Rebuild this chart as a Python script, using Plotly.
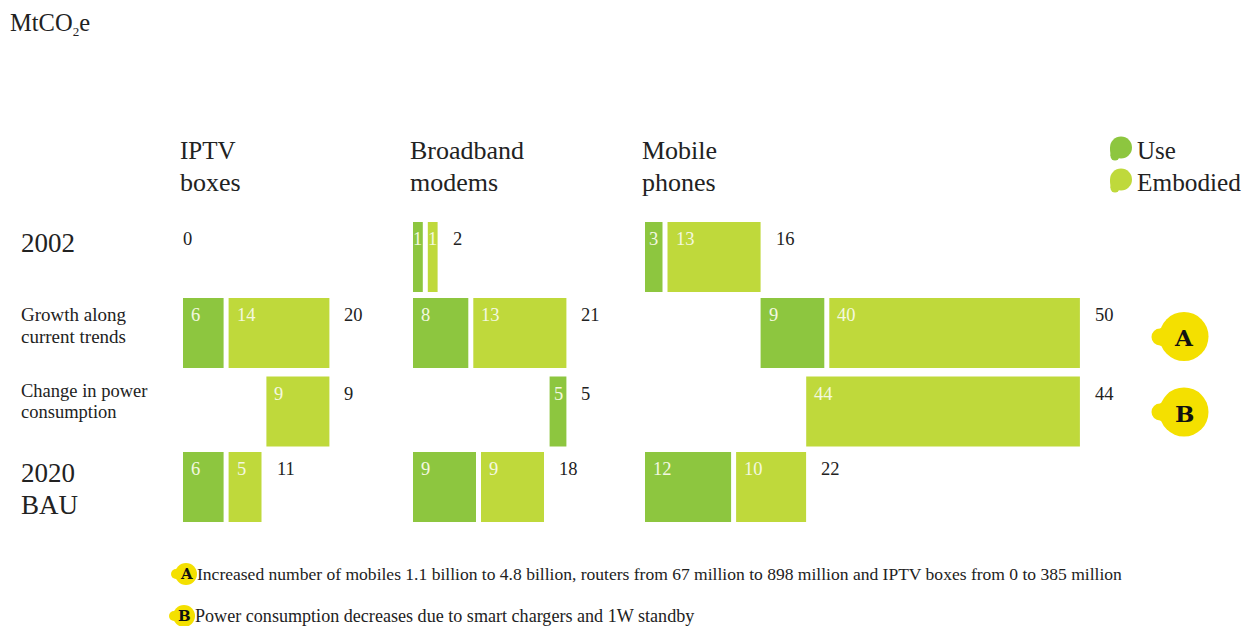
import plotly.graph_objects as go

# ---- data ----
panels = ["IPTV<br>boxes", "Broadband<br>modems", "Mobile<br>phones"]
rows = ["2002", "Growth along<br>current trends", "Change in power<br>consumption", "2020<br>BAU"]
# drawn lengths (MtCO2e)
iptv_use = [0, 5.8, 0, 5.8]
iptv_emb = [0, 14.4, 9.0, 4.7]
modem_use = [1.4, 7.9, 2.4, 9.0]
modem_emb = [1.4, 13.3, 0, 9.0]
mobile_use = [2.5, 9.1, 0, 12.3]
mobile_emb = [13.3, 35.8, 39.1, 10.0]
# printed labels
iptv_use_lab = ["", "6", "", "6"]
iptv_emb_lab = ["", "14", "9", "5"]
iptv_tot = ["0", "20", "9", "11"]
modem_use_lab = ["1", "8", "5", "9"]
modem_emb_lab = ["1", "13", "", "9"]
modem_tot = ["2", "21", "5", "18"]
mobile_use_lab = ["3", "9", "", "12"]
mobile_emb_lab = ["13", "40", "44", "10"]
mobile_tot = ["16", "50", "44", "22"]
notes = ["Increased number of mobiles 1.1 billion to 4.8 billion, routers from 67 million to 898 million and IPTV boxes from 0 to 385 million",
         "Power consumption decreases due to smart chargers and 1W standby"]

# ---- layout constants ----
W, H = 1242, 626
PX = 7.0
FONT = "Liberation Serif"
SLAB = "DejaVu Serif"
INK = "#222222"
C_USE, C_EMB, C_YEL = "#8DC63F", "#BFD93B", "#F4E000"
row_y = [257, 333, 411.5, 487]
BAR_H = 70
GAP = 5 / PX
origins = [183 / PX, 413 / PX, 645 / PX]
carry = [False, False, True]   # growth row continues from the end of 2002

fig = go.Figure()
ann = []

def text(px, py, s, size, color=INK, anchor="left", font=FONT):
    ann.append(dict(x=px / W, y=1 - py / H, xref="paper", yref="paper", text=s, showarrow=False,
                    xanchor=anchor, yanchor="middle", align="left", xshift=-2 if anchor == "left" else 0,
                    font=dict(family=font, size=size, color=color)))

def vlabel(u, py, s, color, anchor="left", xshift=0):
    ann.append(dict(x=u, y=py, xref="x", yref="y", text=s, showarrow=False, xanchor=anchor, yanchor="middle",
                    xshift=xshift, font=dict(family=FONT, size=18.5, color=color)))

def panel(i, use, emb, use_l, emb_l, tot):
    o = origins[i]
    row0_end = o + use[0] + GAP + emb[0]
    start1 = row0_end if carry[i] else o
    end1 = start1 + use[1] + GAP + emb[1]
    starts = [o, start1, end1 - (use[2] + emb[2]), o]
    for r in range(4):
        s = starts[r]
        u, e = use[r], emb[r]
        both = u > 0 and e > 0
        e_start = s + u + (GAP if both else 0)
        if u > 0:
            fig.add_trace(go.Bar(x=[u], base=[s], y=[row_y[r]], width=BAR_H, orientation="h",
                                 marker=dict(color=C_USE, line_width=0), showlegend=False))
        if e > 0:
            fig.add_trace(go.Bar(x=[e], base=[e_start], y=[row_y[r]], width=BAR_H, orientation="h",
                                 marker=dict(color=C_EMB, line_width=0), showlegend=False))
        ly = row_y[r] - BAR_H / 2 + 17
        for lab, b0, w in ((use_l[r], s, u), (emb_l[r], e_start, e)):
            if lab and w > 0:
                if w * PX < 30:
                    vlabel(b0 + w / 2, ly, lab, "#F4F8E0", "center")
                else:
                    vlabel(b0, ly, lab, "#F4F8E0", "left", 6)
        end = e_start + e if e > 0 else s + u
        if u == 0 and e == 0:
            vlabel(o, ly, tot[r], INK, "left", -2)
        else:
            vlabel(end, ly, tot[r], INK, "left", 13)

panel(0, iptv_use, iptv_emb, iptv_use_lab, iptv_emb_lab, iptv_tot)
panel(1, modem_use, modem_emb, modem_use_lab, modem_emb_lab, modem_tot)
panel(2, mobile_use, mobile_emb, mobile_use_lab, mobile_emb_lab, mobile_tot)

shapes = []
def circle(cx, cy, r, col):
    shapes.append(dict(type="circle", xref="paper", yref="paper", x0=(cx - r) / W, x1=(cx + r) / W,
                       y0=1 - (cy + r) / H, y1=1 - (cy - r) / H, fillcolor=col, line_width=0, layer="below"))

def blob(cx, cy, r, bx, by, br, col):
    circle(cx, cy, r, col)
    circle(bx, by, br, col)
    # neck joining the small bump to the big circle
    pts = [(bx, by - br), (bx, by + br), (cx, cy + r * 0.7), (cx, cy - r * 0.7)] if abs(by - cy) < 2 else \
          [(bx - br, by), (bx + br, by + 1), (cx + r * 0.5, cy), (cx - r, cy)]
    path = "M " + " L ".join(f"{x / W:.5f},{1 - y / H:.5f}" for x, y in pts) + " Z"
    shapes.append(dict(type="path", xref="paper", yref="paper", path=path, fillcolor=col, line_width=0, layer="below"))

blob(1121, 147.5, 11, 1115, 156, 4.5, C_USE)
blob(1121, 179.5, 11, 1115, 188, 4.5, C_EMB)
blob(1184, 336.5, 24.5, 1160, 337, 8.5, C_YEL)
blob(1184, 412, 24.5, 1160, 412, 8.5, C_YEL)
blob(186, 574, 11, 176, 574, 5, C_YEL)
blob(184, 616, 11, 174, 616, 5, C_YEL)

text(10, 24, 'MtCO<sub><span style="font-size:13px">2</span></sub>e', 24.5)
px_heads = [180, 410, 642]
for x, p, sz in zip(px_heads, panels, (25, 26, 26)):
    a, b = p.split("<br>")
    text(x, 151, a, sz)
    text(x, 182, b, 26)
text(21, 243, rows[0], 27)
a, b = rows[1].split("<br>")
text(21, 314, a, 19); text(21, 336, b, 19)
a, b = rows[2].split("<br>")
text(21, 391, a, 18.5); text(21, 412, b, 18.5)
a, b = rows[3].split("<br>")
text(21, 473, a, 27); text(21, 505, b, 27)
text(1137, 151, "Use", 25)
text(1137, 182, "Embodied", 25.3)
text(1184, 337, "<b>A</b>", 23, "#111111", "center", SLAB)
text(1184, 413, "<b>B</b>", 23, "#111111", "center", SLAB)
text(186, 574, "<b>A</b>", 15, "#111111", "center", SLAB)
text(184, 616, "<b>B</b>", 15, "#111111", "center", SLAB)
text(197, 574, notes[0], 17.55)
text(195, 616, notes[1], 18.1)

fig.update_layout(width=W, height=H, margin=dict(l=0, r=0, t=0, b=0), paper_bgcolor="white", plot_bgcolor="white",
                  barmode="overlay", annotations=ann, shapes=shapes, showlegend=False,
                  xaxis=dict(range=[0, W / PX], visible=False, domain=[0, 1], fixedrange=True),
                  yaxis=dict(range=[H, 0], visible=False, domain=[0, 1], fixedrange=True))
fig.write_html("out.html", config=dict(displayModeBar=False),
               post_script="document.body.style.margin='0';document.documentElement.style.overflow='hidden';")
